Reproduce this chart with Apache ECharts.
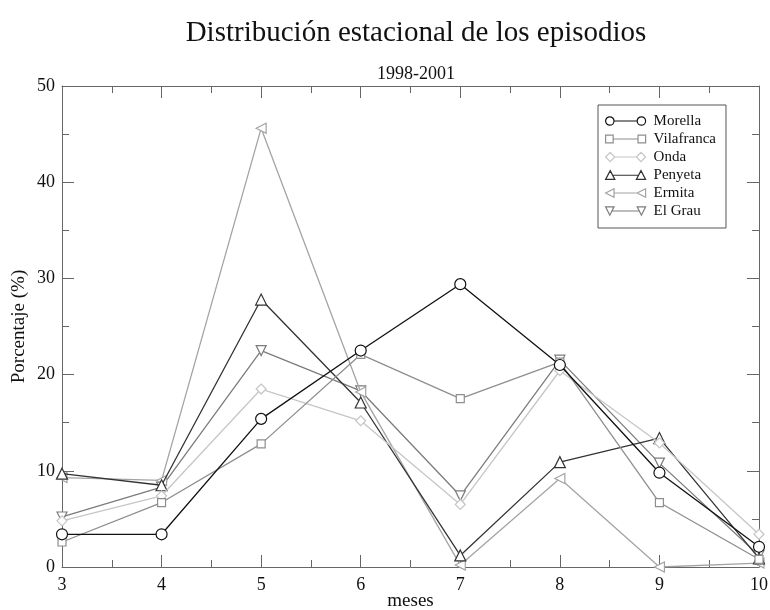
<!DOCTYPE html>
<html>
<head>
<meta charset="utf-8">
<script src="https://cdn.jsdelivr.net/npm/echarts@6/dist/echarts.min.js"></script>
<style>html,body{margin:0;padding:0;background:#fff;}#c{width:770px;height:610px;}</style>
</head>
<body>
<div id="c"></div>
<script>
var months = [3, 4, 5, 6, 7, 8, 9, 10];
var seriesNames = ['Morella', 'Vilafranca', 'Onda', 'Penyeta', 'Ermita', 'El Grau'];
var morella    = [3.4, 3.4, 15.4, 22.5, 29.4, 21.0, 9.8, 2.1];
var vilafranca = [2.6, 6.7, 12.8, 22.1, 17.5, 21.3, 6.7, 0.8];
var onda       = [4.8, 7.4, 18.5, 15.2, 6.5, 20.4, 12.9, 3.4];
var penyeta    = [9.7, 8.5, 27.8, 17.1, 1.2, 10.9, 13.4, 0.9];
var ermita     = [9.3, 9.0, 45.6, 18.2, 0.2, 9.2, 0.0, 0.4];
var elgrau     = [5.2, 8.3, 22.5, 18.3, 7.4, 21.5, 10.8, 1.2];
var yTicks = [0, 10, 20, 30, 40, 50];

var allValues = [morella, vilafranca, onda, penyeta, ermita, elgrau];
var colors = ['#111111', '#8e8e8e', '#c6c6c6', '#333333', '#a4a4a4', '#7c7c7c'];
var symbols = ['circle', 'rect', 'diamond', 'triangle', 'path://M0,5L10,0L10,10Z', 'path://M0,0L10,0L5,10Z'];
var sizes = [11, 8, 10, 11, 10, 10];
var legendIcons = [
  'path://M1,5 A4,4 0 1,1 9,5 A4,4 0 1,1 1,5 Z M9,5 L31,5 M31,5 A4,4 0 1,1 39,5 A4,4 0 1,1 31,5 Z',
  'path://M1.5,1.5 L8.5,1.5 L8.5,8.5 L1.5,8.5 Z M8.5,5 L31.5,5 M31.5,1.5 L38.5,1.5 L38.5,8.5 L31.5,8.5 Z',
  'path://M5,0.5 L9.5,5 L5,9.5 L0.5,5 Z M9.5,5 L30.5,5 M35,0.5 L39.5,5 L35,9.5 L30.5,5 Z',
  'path://M5,0.5 L9.5,9 L0.5,9 Z M7.5,5 L32.5,5 M35,0.5 L39.5,9 L30.5,9 Z',
  'path://M1,5 L9,1 L9,9 Z M9,5 L31,5 M31,5 L39,1 L39,9 Z',
  'path://M1,1 L9,1 L5,9 Z M7,5 L33,5 M31,1 L39,1 L35,9 Z'
];

var font = '"Liberation Serif", "DejaVu Serif", serif';

var series = seriesNames.map(function (n, i) {
  return {
    name: n,
    type: 'line',
    data: months.map(function (m, j) { return [m, allValues[i][j]]; }),
    symbol: symbols[i],
    symbolSize: sizes[i],
    showSymbol: true,
    lineStyle: { color: colors[i], width: 1.3 },
    itemStyle: { color: '#ffffff', borderColor: colors[i], borderWidth: 1.2 },
    emphasis: { disabled: true },
    z: 10 - i
  };
});

var legendData = seriesNames.map(function (n, i) {
  return {
    name: n,
    icon: legendIcons[i],
    itemStyle: { color: '#ffffff', borderColor: colors[i], borderWidth: 1.2 }
  };
});

var axisCommon = function () {
  return {
    axisLine: { show: true, onZero: false, lineStyle: { color: '#666', width: 1 } },
    axisTick: { show: true, inside: true, length: 12, lineStyle: { color: '#666' } },
    minorTick: { show: true, splitNumber: 2, length: 7, lineStyle: { color: '#666' } },
    splitLine: { show: false }
  };
};

var chart = echarts.init(document.getElementById('c'), null, { renderer: 'canvas' });
chart.setOption({
  backgroundColor: '#ffffff',
  animation: false,
  title: [
    { text: 'Distribución estacional de los episodios', left: 411, top: 14, textAlign: 'center',
      textStyle: { fontFamily: font, fontSize: 29, fontWeight: 'normal', color: '#111' } },
    { text: '1998-2001', left: 411, top: 60, textAlign: 'center',
      textStyle: { fontFamily: font, fontSize: 18, fontWeight: 'normal', color: '#111' } }
  ],
  legend: {
    orient: 'vertical',
    left: 598,
    top: 105,
    data: legendData,
    itemWidth: 40,
    itemHeight: 10,
    itemGap: 2,
    padding: [8, 10, 9, 7],
    borderColor: '#555',
    borderWidth: 1,
    backgroundColor: '#fff',
    textStyle: { fontFamily: font, fontSize: 15, lineHeight: 16, color: '#111', padding: [0, 0, 0, 3] },
    selectedMode: false
  },
  grid: { left: 62, right: 11, top: 86, bottom: 43, outerBoundsMode: 'none', containLabel: false },
  xAxis: [
    Object.assign(axisCommon(), { type: 'value', min: 3, max: 10, interval: 1, position: 'bottom',
      name: 'meses', nameLocation: 'middle', nameGap: 25, nameMoveOverlap: false,
      nameTextStyle: { fontFamily: font, fontSize: 19, color: '#111' },
      axisLabel: { fontFamily: font, fontSize: 18, color: '#111', margin: 9 } }),
    Object.assign(axisCommon(), { type: 'value', min: 3, max: 10, interval: 1, position: 'top',
      axisLabel: { show: false } })
  ],
  yAxis: [
    Object.assign(axisCommon(), { type: 'value', min: 0, max: 50, interval: 10, position: 'left',
      name: 'Porcentaje (%)', nameLocation: 'middle', nameGap: 33, nameRotate: 90, nameMoveOverlap: false,
      nameTextStyle: { fontFamily: font, fontSize: 19, color: '#111' },
      axisLabel: { fontFamily: font, fontSize: 18, color: '#111', margin: 7,
        formatter: function (v) { return yTicks.indexOf(v) >= 0 ? String(v) : ''; } } }),
    Object.assign(axisCommon(), { type: 'value', min: 0, max: 50, interval: 10, position: 'right',
      axisLabel: { show: false } })
  ],
  series: series
});
</script>
</body>
</html>
